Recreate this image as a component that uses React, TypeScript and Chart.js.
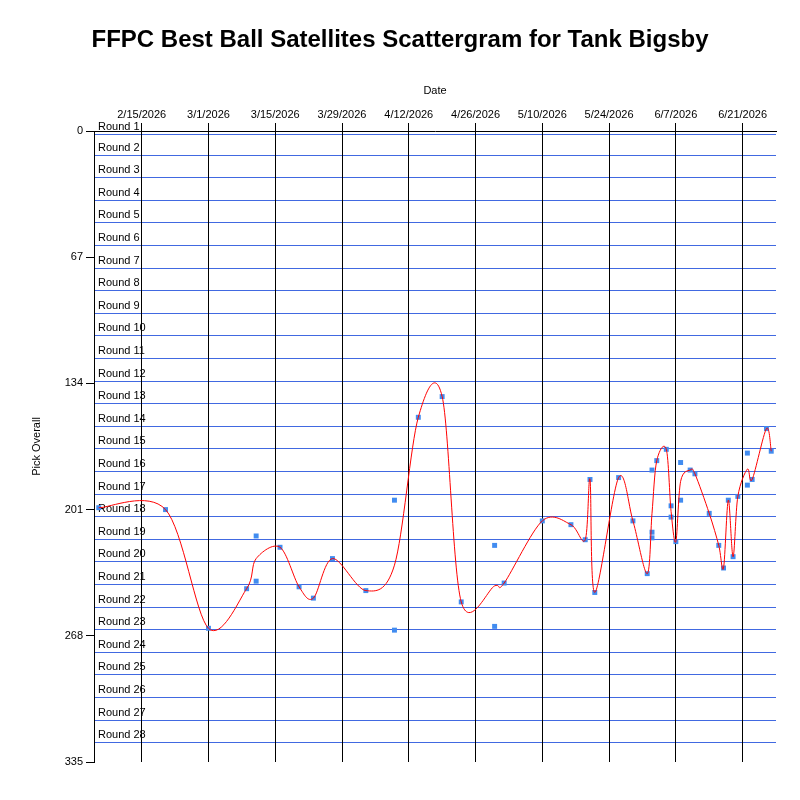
import React, { useEffect, useRef } from 'react';
import Chart from 'chart.js/auto';

const FONT = '"Liberation Sans", Arial, sans-serif';
const TITLE = 'FFPC Best Ball Satellites Scattergram for Tank Bigsby';

// one entry per pick: draft date and overall pick number
const pickDates = [
  '2026-02-06', '2026-02-20', '2026-03-01', '2026-03-09', '2026-03-11', '2026-03-11',
  '2026-03-16', '2026-03-20', '2026-03-23', '2026-03-27', '2026-04-03', '2026-04-09',
  '2026-04-09', '2026-04-14', '2026-04-19', '2026-04-23', '2026-04-30', '2026-04-30',
  '2026-05-02', '2026-05-10', '2026-05-16', '2026-05-19', '2026-05-20', '2026-05-21',
  '2026-05-26', '2026-05-29', '2026-06-01', '2026-06-02', '2026-06-02', '2026-06-02',
  '2026-06-03', '2026-06-05', '2026-06-06', '2026-06-06', '2026-06-07', '2026-06-08',
  '2026-06-08', '2026-06-10', '2026-06-11', '2026-06-14', '2026-06-16', '2026-06-17',
  '2026-06-18', '2026-06-19', '2026-06-20', '2026-06-22', '2026-06-22', '2026-06-23',
  '2026-06-26', '2026-06-27',
];
const pickOverall = [
  200, 201, 264, 243, 215, 239,
  221, 242, 248, 227, 244, 196,
  265, 152, 141, 250, 220, 263,
  240, 207, 209, 217, 185, 245,
  184, 207, 235, 180, 213, 216,
  175, 169, 199, 205, 218, 176,
  196, 180, 182, 203, 220, 232,
  196, 226, 194, 171, 188, 185,
  158, 170,
];

const dateTicks = [
  '2026-02-15', '2026-03-01', '2026-03-15', '2026-03-29', '2026-04-12',
  '2026-04-26', '2026-05-10', '2026-05-24', '2026-06-07', '2026-06-21',
];
const dateRange = ['2026-02-05', '2026-06-28'];
const pickTicks = [0, 67, 134, 201, 268, 335];
const roundNames = Array.from({ length: 28 }, (_, i) => `Round ${i + 1}`);
const roundLines = roundNames.map((_, i) => (i === 0 ? 1.5 : 12 * i + 0.5));

// cardinal spline handle factor (uniform, like the original chart's spline)
const SPLINE_K = 0.16;

const toDay = (s: string) => {
  const [y, m, d] = s.split('-').map(Number);
  return Date.UTC(y, m - 1, d) / 86400000;
};
const fmtDay = (v: number) => {
  const dt = new Date(v * 86400000);
  return `${dt.getUTCMonth() + 1}/${dt.getUTCDate()}/${dt.getUTCFullYear()}`;
};

const points = pickDates.map((d, i) => ({ x: toDay(d), y: pickOverall[i] }));

// daily average, which the red spline goes through
const dailyAvg = (() => {
  const groups: { x: number; sum: number; n: number }[] = [];
  points.forEach((p) => {
    const last = groups[groups.length - 1];
    if (last && last.x === p.x) {
      last.sum += p.y;
      last.n += 1;
    } else {
      groups.push({ x: p.x, sum: p.y, n: 1 });
    }
  });
  return groups.map((g) => ({ x: g.x, y: g.sum / g.n }));
})();

const roundsPlugin = {
  id: 'rounds',
  beforeDraw(chart: any) {
    const { ctx, chartArea } = chart;
    const yScale = chart.scales.y;
    ctx.save();
    ctx.strokeStyle = '#4169e1';
    ctx.lineWidth = 1;
    ctx.fillStyle = '#000';
    ctx.font = `11px ${FONT}`;
    ctx.textAlign = 'left';
    ctx.textBaseline = 'middle';
    roundLines.forEach((v, i) => {
      const y = Math.round(yScale.getPixelForValue(v)) + 0.5;
      ctx.beginPath();
      ctx.moveTo(chartArea.left, y);
      ctx.lineTo(chartArea.right, y);
      ctx.stroke();
      ctx.fillText(roundNames[i], chartArea.left + 4, y - 8);
    });
    ctx.restore();
  },
  afterDraw(chart: any) {
    const { ctx } = chart;
    ctx.save();
    ctx.fillStyle = '#000';
    ctx.font = `bold 24px ${FONT}`;
    ctx.textAlign = 'center';
    ctx.textBaseline = 'middle';
    ctx.fillText(TITLE, chart.width / 2, 40.4);
    ctx.restore();
  },
};

// replace chart.js's distance-weighted handles with a uniform cardinal spline
const splinePlugin = {
  id: 'cardinal',
  beforeDatasetsDraw(chart: any) {
    const meta = chart.getDatasetMeta(0);
    const pts = meta.data;
    pts.forEach((p: any, i: number) => {
      const a = pts[i - 1] || p;
      const b = pts[i + 1] || p;
      const dx = (b.x - a.x) * SPLINE_K;
      const dy = (b.y - a.y) * SPLINE_K;
      p.cp1x = p.x - dx;
      p.cp1y = p.y - dy;
      p.cp2x = p.x + dx;
      p.cp2y = p.y + dy;
    });
    if (meta.dataset) {
      meta.dataset._pointsUpdated = true;
      meta.dataset._path = undefined;
    }
  },
};

const App = () => {
  const canvasDom = useRef<HTMLCanvasElement>(null);

  useEffect(() => {
    if (!canvasDom.current) {
      return;
    }
    document.body.style.margin = '0';

    const myChart = new Chart(canvasDom.current, {
      type: 'scatter',
      data: {
        datasets: [
          {
            data: dailyAvg,
            showLine: true,
            borderColor: '#ff0000',
            borderWidth: 1,
            tension: 0.5,
            pointRadius: 0,
            pointHoverRadius: 0,
          },
          {
            data: points,
            pointStyle: 'rect',
            pointRadius: 3.5,
            pointBorderWidth: 0,
            backgroundColor: '#418cf0',
            borderColor: '#418cf0',
          },
        ],
      },
      options: {
        animation: false,
        responsive: false,
        layout: { padding: { left: 0, right: 24, top: 54.8, bottom: 38 } },
        plugins: {
          legend: { display: false },
          tooltip: { enabled: false },
          title: { display: false },
        },
        scales: {
          x: {
            type: 'linear',
            position: 'top',
            min: toDay(dateRange[0]),
            max: toDay(dateRange[1]),
            afterBuildTicks: (scale: any) => {
              scale.ticks = dateTicks.map((d) => ({ value: toDay(d) }));
            },
            afterFit: (scale: any) => {
              scale.height = 131 - 54.8;
            },
            ticks: {
              color: '#000',
              padding: 1,
              maxRotation: 0,
              autoSkip: false,
              font: { family: FONT, size: 11 },
              callback: (v: any) => fmtDay(Number(v)),
            },
            grid: { color: '#000', tickLength: 8, lineWidth: 1 },
            border: { color: '#000' },
            title: {
              display: true,
              text: 'Date',
              color: '#000',
              font: { family: FONT, size: 11 },
              padding: { top: 30, bottom: 0 },
            },
          },
          y: {
            type: 'linear',
            reverse: true,
            min: 0,
            max: 335,
            afterBuildTicks: (scale: any) => {
              scale.ticks = pickTicks.map((value) => ({ value }));
            },
            afterFit: (scale: any) => {
              scale.width = 94;
            },
            ticks: {
              color: '#000',
              padding: 3,
              font: { family: FONT, size: 11 },
            },
            grid: { color: '#000', drawOnChartArea: false, tickLength: 8 },
            border: { color: '#000' },
            title: {
              display: true,
              text: 'Pick Overall',
              color: '#000',
              font: { family: FONT, size: 11 },
              padding: { top: 30, bottom: 0 },
            },
          },
        },
      },
      plugins: [roundsPlugin, splinePlugin],
    });

    return () => {
      myChart.destroy();
    };
  }, []);

  return (
    <div style={{ width: 800, height: 800, background: '#fff' }}>
      <canvas ref={canvasDom} width={800} height={800} style={{ display: 'block' }}></canvas>
    </div>
  );
};

export default App;
